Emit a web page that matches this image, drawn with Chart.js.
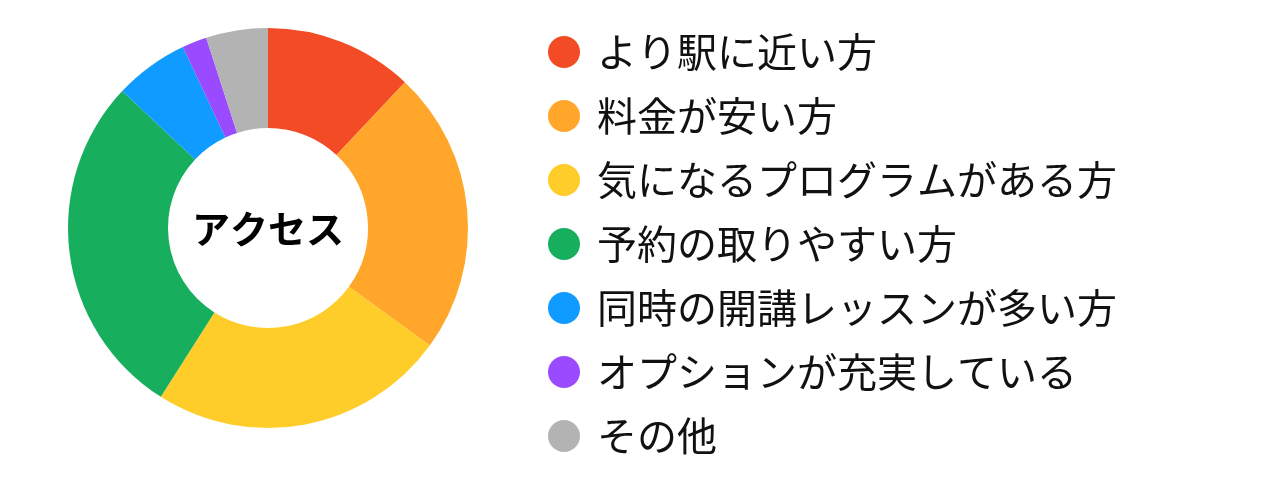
<!DOCTYPE html>
<html lang="ja">
<head>
<meta charset="utf-8">
<script src="https://cdn.jsdelivr.net/npm/chart.js@4.4.1/dist/chart.umd.min.js"></script>
<style>
  html, body { margin: 0; padding: 0; background: #ffffff; }
  #wrap { position: relative; width: 1280px; height: 488px; }
</style>
</head>
<body>
<div id="wrap"><canvas id="c"></canvas></div>
<script>
const centerTitle = 'アクセス';
const categories = [
  'より駅に近い方',
  '料金が安い方',
  '気になるプログラムがある方',
  '予約の取りやすい方',
  '同時の開講レッスンが多い方',
  'オプションが充実している',
  'その他'
];
const values = [12, 23, 24, 28, 6, 2, 5];
const colors = ['#F24B25', '#FFA62B', '#FFCD29', '#17AF5D', '#0F9BFF', '#9B4BFF', '#B3B3B3'];

const FONT = '"Noto Sans CJK JP", "Noto Sans", sans-serif';

const centerText = {
  id: 'centerText',
  afterDraw(chart) {
    const arc = chart.getDatasetMeta(0).data[0];
    if (!arc) return;
    const ctx = chart.ctx;
    ctx.save();
    ctx.font = 'bold 38px ' + FONT;
    ctx.fillStyle = '#000000';
    ctx.textAlign = 'center';
    ctx.textBaseline = 'middle';
    ctx.fillText(centerTitle, arc.x, arc.y + 1);
    ctx.restore();
  }
};

new Chart(document.getElementById('c'), {
  type: 'doughnut',
  data: {
    labels: categories,
    datasets: [{
      data: values,
      backgroundColor: colors,
      borderWidth: 0,
      hoverOffset: 0
    }]
  },
  options: {
    responsive: true,
    maintainAspectRatio: false,
    animation: false,
    radius: 200,
    cutout: '50%',
    layout: { padding: { left: 9, right: 153, top: 0, bottom: 0 } },
    plugins: {
      tooltip: { enabled: false },
      title: {
        display: true,
        position: 'bottom',
        fullSize: false,
        text: ' ',
        font: { size: 16, lineHeight: 1 },
        padding: { top: 8, bottom: 8 }
      },
      legend: {
        position: 'right',
        align: 'center',
        maxWidth: 720,
        labels: {
          usePointStyle: true,
          pointStyle: 'circle',
          boxWidth: 26,
          boxHeight: 22.63,
          padding: 24,
          color: '#111111',
          font: { family: FONT, size: 40 }
        }
      }
    }
  },
  plugins: [centerText]
});
</script>
</body>
</html>
